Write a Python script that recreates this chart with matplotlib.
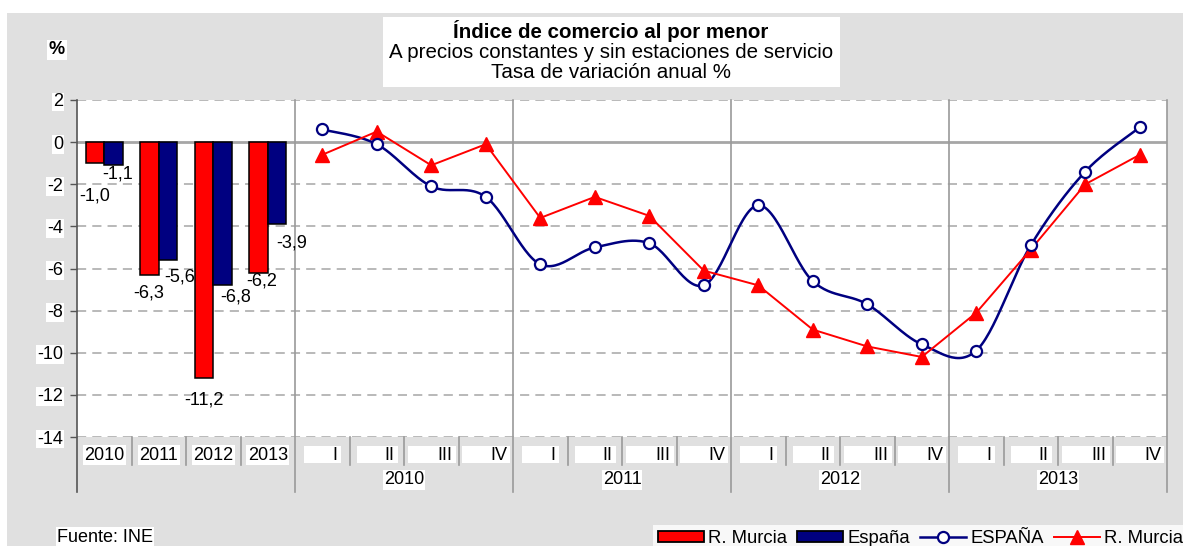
import numpy as np
import matplotlib
matplotlib.use('Agg')
import matplotlib.pyplot as plt
from matplotlib.patches import Rectangle, Patch
from matplotlib.lines import Line2D
import matplotlib.transforms as mtransforms

plt.rcParams['font.family'] = ['Liberation Sans', 'DejaVu Sans']

# ---------------- data ----------------
years = ['2010', '2011', '2012', '2013']
bar_murcia = [-1.0, -6.3, -11.2, -6.2]
bar_espana = [-1.1, -5.6, -6.8, -3.9]
quarters = ['I', 'II', 'III', 'IV']
quarter_years = ['2010', '2011', '2012', '2013']
q_espana = [0.6, -0.1, -2.1, -2.6, -5.8, -5.0, -4.8, -6.8,
            -3.0, -6.6, -7.7, -9.6, -9.9, -4.9, -1.4, 0.7]
q_murcia = [-0.6, 0.5, -1.1, -0.1, -3.6, -2.6, -3.5, -6.1,
            -6.8, -8.9, -9.7, -10.2, -8.1, -5.1, -2.0, -0.6]
yticks = list(range(-14, 3, 2))
title_lines = ['Índice de comercio al por menor',
               'A precios constantes y sin estaciones de servicio',
               'Tasa de variación anual %']
legend_labels = ['R. Murcia', 'España', 'ESPAÑA', 'R. Murcia']
source = 'Fuente: INE'
unit = '%'

# ---------------- styles ----------------
W, H = 1183, 546
FS = 13
FST = 14.8
RED = '#ff0000'
NAVY = '#000080'
GRID = '#a6a6a6'
SEP = '#9a9a9a'
AXC = '#555555'
# label offsets (px, right / down) for bar data labels
off_murcia = [(0, 33), (-0.6, 18), (0, 21.5), (3, 8.5)]
off_espana = [(4, 9), (12, 17), (13, 12), (15, 18.5)]
# quarter-label box insets (left, right) in px
q_insets = [(9, 9), (7, 6.5), (4, 3), (3.5, 3)]

fig = plt.figure(figsize=(W / 100, H / 100), dpi=100)
fig.patch.set_facecolor('white')
fig.patches.append(Rectangle((7 / W, 0), 1, (H - 13) / H, transform=fig.transFigure,
                             facecolor='#e0e0e0', edgecolor='none', zorder=-10))

ax = fig.add_axes([77 / W, 1 - 437 / H, (1167 - 77) / W, (437 - 100) / H])
ax.set_facecolor('white')
ax.set_xlim(-0.5, 19.5)
ax.set_ylim(-14, 2)
for s in ax.spines.values():
    s.set_visible(False)
ax.set_xticks([])
ax.set_yticks(yticks)
ax.set_yticklabels([str(v) for v in yticks], fontsize=FS)
ax.tick_params(axis='y', length=5, width=1, color=AXC, pad=5)
for lbl in ax.get_yticklabels():
    lbl.set_bbox(dict(facecolor='white', edgecolor='none', pad=0.6))

def fy(px):
    return 1 - px / H

blend = mtransforms.blended_transform_factory(ax.transData, fig.transFigure)

# gridlines
for y in yticks:
    if y == 0:
        continue
    ax.axhline(y, color=GRID, lw=1.1, ls=(0, (6, 4)), zorder=1)
ax.axhline(0, color=GRID, lw=2.0, zorder=1)

# group separators & category ticks
for xg in [3.5, 7.5, 11.5, 15.5, 19.5]:
    ax.plot([xg, xg], [fy(100), fy(492)], transform=blend, color=SEP, lw=1.2,
            clip_on=False, zorder=1)
ax.plot([-0.5, -0.5], [fy(100), fy(492)], transform=blend, color=AXC, lw=1.2,
        clip_on=False, zorder=3)
n_cat = len(years) + len(quarters) * len(quarter_years)
for k in range(1, n_cat):
    xk = k - 0.5
    if xk in (3.5, 7.5, 11.5, 15.5):
        continue
    ax.plot([xk, xk], [fy(437), fy(465)], transform=blend, color=SEP, lw=1.2,
            clip_on=False, zorder=1)

# bars
xb = np.arange(len(years))
bw = 0.335
ax.bar(xb - bw / 2, bar_murcia, bw, color=RED, edgecolor='black', lw=1.1, zorder=4)
ax.bar(xb + bw / 2, bar_espana, bw, color=NAVY, edgecolor='black', lw=1.1, zorder=4)

def fmt(v):
    return f'{v:.1f}'.replace('.', ',')

for i, v in enumerate(bar_murcia):
    dx, dy = off_murcia[i]
    ax.annotate(fmt(v), (xb[i] - bw / 2, v), xytext=(dx * 0.72, -dy * 0.72),
                textcoords='offset points', ha='center', va='center', fontsize=FS, zorder=6)
for i, v in enumerate(bar_espana):
    dx, dy = off_espana[i]
    ax.annotate(fmt(v), (xb[i] + bw / 2, v), xytext=(dx * 0.72, -dy * 0.72),
                textcoords='offset points', ha='center', va='center', fontsize=FS, zorder=6)

# lines
xq = np.arange(len(years), n_cat)

def catmull_rom(x, y, n=30):
    pts = np.column_stack([x, y]).astype(float)
    P = np.vstack([pts[0], pts, pts[-1]])
    t = np.linspace(0, 1, n)[:, None]
    out = []
    for i in range(1, len(P) - 2):
        p0, p1, p2, p3 = P[i - 1], P[i], P[i + 1], P[i + 2]
        c1 = p1 + (p2 - p0) / 6
        c2 = p2 - (p3 - p1) / 6
        seg = (1 - t) ** 3 * p1 + 3 * (1 - t) ** 2 * t * c1 + 3 * (1 - t) * t ** 2 * c2 + t ** 3 * p2
        out.append(seg if i == 1 else seg[1:])
    return np.vstack(out)

sm = catmull_rom(xq, q_espana)
ax.plot(sm[:, 0], sm[:, 1], color=NAVY, lw=1.8, zorder=5)
ax.plot(xq, q_espana, ls='none', marker='o', ms=8, mfc='white', mec=NAVY, mew=1.6, zorder=6)
ax.plot(xq, q_murcia, color=RED, lw=1.4, marker='^', ms=10, mfc=RED, mec=RED, zorder=5)

# category labels (bars section)
cw = 1.0 / ((1167 - 77) / n_cat)  # data units per px
ylab = fy(455)
for i, yr in enumerate(years):
    ax.text(i, ylab, yr, transform=blend, ha='center', va='center', fontsize=FS,
            bbox=dict(facecolor='white', edgecolor='none', pad=1.2), clip_on=False)
# quarter labels with boxes
for g, yr in enumerate(quarter_years):
    for q, ql in enumerate(quarters):
        k = len(years) + g * 4 + q
        left = k - 0.5 + q_insets[q][0] * cw
        right = k + 0.5 - q_insets[q][1] * cw
        ax.add_patch(Rectangle((left, fy(463)), right - left, (463 - 446) / H, transform=blend,
                               facecolor='white', edgecolor='none', clip_on=False, zorder=2))
        ax.text(right - 3 * cw, ylab, ql, transform=blend, ha='right', va='center',
                fontsize=FS, clip_on=False, zorder=3)
    ax.text(len(years) + g * 4 + 1.5, fy(480), yr, transform=blend, ha='center', va='center',
            fontsize=FS, bbox=dict(facecolor='white', edgecolor='none', pad=0.8), clip_on=False)

# title box
fig.patches.append(Rectangle((383 / W, fy(87)), (840 - 383) / W, (87 - 17) / H,
                             transform=fig.transFigure, facecolor='white', edgecolor='none', zorder=-5))
fig.text(611 / W, fy(31), title_lines[0], ha='center', va='center', fontsize=FST, fontweight='bold')
fig.text(611 / W, fy(52), title_lines[1], ha='center', va='center', fontsize=FST)
fig.text(611 / W, fy(73), title_lines[2], ha='center', va='center', fontsize=FST)

fig.text(57 / W, fy(50), unit, ha='center', va='center', fontsize=FS, fontweight='bold',
         bbox=dict(facecolor='white', edgecolor='none', pad=1))
fig.text(105 / W, fy(537), source, ha='center', va='center', fontsize=FS,
         bbox=dict(facecolor='white', edgecolor='none', pad=1))

# legend
handles = [Patch(facecolor=RED, edgecolor='black', lw=1.3),
           Patch(facecolor=NAVY, edgecolor='black', lw=1.3),
           Line2D([], [], color=NAVY, lw=1.8, marker='o', ms=8, mfc='white', mec=NAVY, mew=1.6),
           Line2D([], [], color=RED, lw=1.4, marker='^', ms=10, mfc=RED, mec=RED)]
leg = fig.legend(handles, legend_labels, loc='lower left', bbox_to_anchor=(653 / W, -0.01),
                 ncol=4, frameon=True, fancybox=False, fontsize=13.3, handlelength=2.5,
                 handleheight=0.55, handletextpad=0.22, columnspacing=0.55, borderpad=0.25,
                 borderaxespad=0)
leg.get_frame().set_facecolor('white')
leg.get_frame().set_edgecolor('none')

fig.savefig('out.png', dpi=100)
